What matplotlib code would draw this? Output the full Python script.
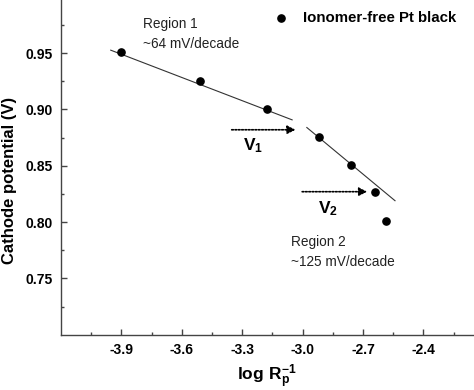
import numpy as np
import matplotlib
matplotlib.use('Agg')
import matplotlib.pyplot as plt

plt.rcParams['font.family'] = ['Liberation Sans', 'DejaVu Sans']
plt.rcParams['mathtext.fontset'] = 'custom'
plt.rcParams['mathtext.rm'] = 'Liberation Sans'
plt.rcParams['mathtext.bf'] = 'Liberation Sans:bold'

# measured points
log_rp = [-3.90, -3.511, -3.176, -2.918, -2.761, -2.638, -2.587]
potential = [0.951, 0.925, 0.9005, 0.8757, 0.8508, 0.8263, 0.8008]

# fitted Tafel lines (end points)
fit1_x = [-3.953, -3.052]
fit1_y = [0.9527, 0.8908]
fit2_x = [-2.979, -2.541]
fit2_y = [0.884, 0.819]

# dotted arrows
arrow1_x = [-3.366, -3.021]
arrow1_y = 0.882
arrow2_x = [-3.016, -2.665]
arrow2_y = 0.827

fig = plt.figure(figsize=(4.74, 3.9), dpi=100)
W, H = 474.0, 390.0
# axes runs a bit past the top/right border (figure is cropped)
ax = fig.add_axes([61 / W, (H - 334.7) / H, 422.8 / W, 337.8 / H])

ax.plot(fit1_x, fit1_y, color='#333333', lw=0.8)
ax.plot(fit2_x, fit2_y, color='#333333', lw=0.8)
ax.plot(log_rp, potential, 'o', color='black', ms=5.2, ls='none')

for xs, yv in [(arrow1_x, arrow1_y), (arrow2_x, arrow2_y)]:
    ax.annotate('', xy=(xs[1], yv), xytext=(xs[0], yv),
                arrowprops=dict(arrowstyle='-|>', ls=(0, (1, 1)), lw=1.2,
                                color='black', mutation_scale=12))

ax.text(-3.791, 0.9759, 'Region 1', fontsize=9.8, va='center', ha='left', color='#222222')
ax.text(-3.791, 0.9579, '~64 mV/decade', fontsize=9.8, va='center', ha='left', color='#222222')
ax.text(-3.058, 0.782, 'Region 2', fontsize=9.8, va='center', ha='left', color='#222222')
ax.text(-3.058, 0.7648, '~125 mV/decade', fontsize=9.8, va='center', ha='left', color='#222222')
ax.text(-3.246, 0.8678, r'$\mathbf{V_1}$', fontsize=12.5, ha='center', va='center')
ax.text(-2.872, 0.8123, r'$\mathbf{V_2}$', fontsize=12.5, ha='center', va='center')

# legend
ax.plot([-3.107], [0.981], 'o', color='black', ms=5.2)
ax.text(-3.0, 0.981, 'Ionomer-free Pt black', fontsize=10.8, fontweight='bold',
        va='center', ha='left')

ax.set_xlim(-4.2, -2.1)
ax.set_ylim(0.70, 1.0)
ax.set_xticks([-3.9, -3.6, -3.3, -3.0, -2.7, -2.4])
ax.set_xticks(np.arange(-4.05, -2.1, 0.15), minor=True)
ax.set_yticks([0.75, 0.80, 0.85, 0.90, 0.95])
ax.set_yticks(np.arange(0.725, 1.0, 0.025), minor=True)
ax.set_xticklabels(['-3.9', '-3.6', '-3.3', '-3.0', '-2.7', '-2.4'])
ax.set_yticklabels(['0.75', '0.80', '0.85', '0.90', '0.95'])
ax.tick_params(which='both', direction='in', labelsize=10, color='#444444')
ax.tick_params(which='major', length=4, width=1, pad=6)
ax.tick_params(which='minor', length=2.5, width=1)
for lab in ax.get_xticklabels() + ax.get_yticklabels():
    lab.set_fontweight('bold')
for sp in ax.spines.values():
    sp.set_color('#444444')
    sp.set_linewidth(1.0)

fig.text(266.7 / W, 1 - 381 / H, r'$\mathbf{log\ R_p^{-1}}$', fontsize=12.5,
         ha='center', va='baseline')
fig.text(10 / W, 1 - 180 / H, 'Cathode potential (V)', fontsize=12, fontweight='bold',
         rotation=90, ha='center', va='center')

fig.savefig('out.png', dpi=100)
